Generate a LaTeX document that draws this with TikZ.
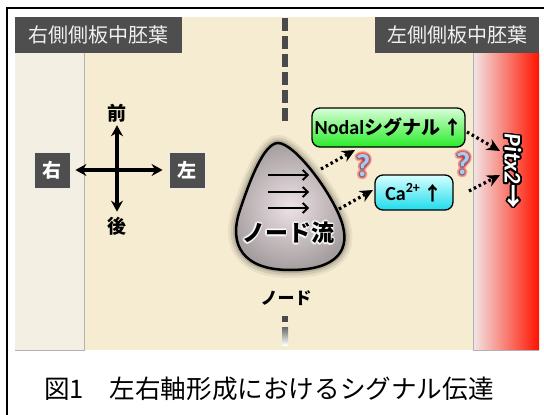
\documentclass[tikz,border=0pt]{standalone}
\usepackage{fontspec}
\setmainfont{Noto Sans CJK JP}
\newfontfamily\carl{Carlito}
\usetikzlibrary{arrows.meta,calc}
\definecolor{bg}{HTML}{F6ECD2}
\definecolor{lpanel}{HTML}{F3EFE3}
\definecolor{hdr}{HTML}{4E4E4E}
\definecolor{dashc}{HTML}{4A4A4A}
\definecolor{qfill}{HTML}{B4C8E6}
\definecolor{qedge}{HTML}{5A6F96}
\newcommand\fs[1]{\fontsize{#1}{#1}\selectfont}
\newcommand\blobp{(278,143) .. controls (264,143) and (250,180) .. (240,210)
  .. controls (228,245) and (243,270) .. (290,270)
  .. controls (337,270) and (352,250) .. (341,220)
  .. controls (330,190) and (294,143) .. (278,143) -- cycle}
\tikzset{
  hdrbox/.style={fill=hdr, text=white!94!black, minimum height=36pt, inner sep=0pt, font=\fs{20}},
  dirbox/.style={fill=hdr, draw=white!85!gray, line width=0.8pt, text=white, minimum width=36pt, minimum height=36pt, inner sep=0pt, font=\fs{19}\bfseries},
  dirlabel/.style={font=\fs{19}\bfseries, inner sep=0pt},
  compass/.style={line width=3.6pt, {Stealth[length=11pt,width=12pt]}-{Stealth[length=11pt,width=12pt]}},
  flowarrow/.style={line width=1.8pt, -{Straight Barb[length=5pt,width=10pt]}},
  dotarrow/.style={line width=3.2pt, dash pattern=on 2.5pt off 3pt, -{Stealth[length=13pt,width=12pt]}},
  sigbox/.style={draw=black, line width=1.3pt, rounded corners=8pt, inner sep=0pt, font=\fs{19}\bfseries},
}
\begin{document}
\begin{tikzpicture}[x=1pt,y=-1pt]
\useasboundingbox (0,0) rectangle (544,415);
\fill[white] (0,0) rectangle (544,415);
% outer frame
\draw[line width=2pt] (544,8) -- (6.5,8) -- (6.5,415);
% backgrounds
\fill[bg] (15,17) rectangle (539,350);
\fill[lpanel] (15,17) rectangle (84,350);
\draw[gray!60, line width=0.8pt] (84,53) -- (84,350) -- (15,350);
\shade[left color={rgb,255:red,242;green,230;blue,230}, middle color={rgb,255:red,248;green,100;blue,100}, right color={rgb,255:red,255;green,20;blue,0}] (473,53) rectangle (539,350);
\draw[gray!60, line width=0.8pt] (473,53) -- (473,350) -- (539,350);
% headers
\node[hdrbox, minimum width=167pt] (hl) at (98.5,35) {右側側板中胚葉};
\node[hdrbox, minimum width=164pt] (hr) at (457,35) {左側側板中胚葉};
% midline
\draw[dashc, line width=6pt, dash pattern=on 13pt off 5pt] (285,18) -- (285,121);
\fill[dashc] (282,316) rectangle (288,322);
\shade[top color=gray!80!black, bottom color=white] (282,327) rectangle (288,345);
% compass
\node[dirlabel] (front) at (117,113) {前};
\node[dirlabel] (back) at (117,226) {後};
\node[dirbox] (R) at (52,170) {右};
\node[dirbox] (L) at (187,170) {左};
\draw[compass] ([xshift=5pt]R.east) -- ([xshift=-6pt]L.west);
\draw[compass] ([yshift=-3pt]front.south) -- ([yshift=5pt]back.north);
% node flow blob
\draw[black, opacity=0.06, line width=16pt] \blobp;
\draw[black, opacity=0.09, line width=11pt] \blobp;
\draw[black, opacity=0.14, line width=6pt] \blobp;
\shade[inner color={rgb,255:red,238;green,226;blue,230}, outer color={rgb,255:red,165;green,158;blue,159}] \blobp;
\draw[black, line width=2.5pt] \blobp;
\node[inner sep=0pt] (flow) at (290,210) {};
\coordinate (a1s) at (268,175); \coordinate (a1e) at (309,175);
\coordinate (a2s) at (268,192); \coordinate (a2e) at (309,192);
\coordinate (a3s) at (268,208); \coordinate (a3e) at (309,208);
\draw[flowarrow] (a1s) -- (a1e);
\draw[flowarrow] (a2s) -- (a2e);
\draw[flowarrow] (a3s) -- (a3e);
\foreach \a in {0,30,...,330}{
  \node[text=white, opacity=0.45, font=\fs{23}\bfseries, inner sep=0pt] (fh\a) at ($(288,233)+(\a:1.8pt)$) {ノード流};
}
\node[font=\fs{23}\bfseries, inner sep=0pt] (flowtext) at (288,233) {ノード流};
% node label
\node[font=\fs{17}\bfseries, inner sep=0pt] (nodelabel) at (286,298) {ノード};
% signal boxes
\node[sigbox, minimum width=153pt, minimum height=39pt, top color={rgb,255:red,215;green,255;blue,215}, bottom color={rgb,255:red,40;green,235;blue,40}] (nodal) at (388.5,127.5) {{\carl\fs{20}Nodal}シグナル\,↑};
\node[sigbox, minimum width=78pt, minimum height=35pt, top color={rgb,255:red,215;green,255;blue,255}, bottom color={rgb,255:red,30;green,220;blue,235}] (ca) at (414,192.5) {{\carl\fs{20}Ca\textsuperscript{2+}}\,↑};
% question marks
\foreach \n/\x/\y in {qa/363/166, qb/463/164}{
  \foreach \a in {0,30,...,330}{
    \node[text=red, opacity=0.2, font=\fs{32}\carl\bfseries, inner sep=0pt] (\n r\a) at ($(\x,\y)+(\a:3pt)$) {?};
  }
  \foreach \a in {0,45,...,315}{
    \node[text=qedge, font=\fs{32}\carl\bfseries, inner sep=0pt] (\n e\a) at ($(\x,\y)+(\a:0.9pt)$) {?};
  }
  \node[text=qfill, font=\fs{32}\carl\bfseries, inner sep=0pt] (\n) at (\x,\y) {?};
}
% Pitx2
\foreach \a in {0,22.5,...,337.5}{
  \node[rotate=-90, text=black, font=\fs{24}\bfseries, inner sep=0pt] (ph\a) at ($(513,171)+(\a:1.8pt)$) {{\carl\itshape Pitx2}→};
}
\node[rotate=-90, text=white, font=\fs{24}\bfseries, inner sep=0pt] (pitx) at (513,171) {{\carl\itshape Pitx2}→};
% dotted arrows
\coordinate (d1s) at (321,169); \coordinate (d1e) at (355,150);
\coordinate (d2s) at (339,209); \coordinate (d2e) at (373,190);
\coordinate (d3s) at (467,132); \coordinate (d3e) at (500,151);
\coordinate (d4s) at (469,191); \coordinate (d4e) at (500,175);
\draw[dotarrow] (d1s) -- (d1e);
\draw[dotarrow] (d2s) -- (d2e);
\draw[dotarrow] (d3s) -- (d3e);
\draw[dotarrow] (d4s) -- (d4e);
% caption
\node[anchor=west, font=\fs{25.6}, inner sep=0pt] (cap) at (44,389) {図1　左右軸形成におけるシグナル伝達};
\end{tikzpicture}
\end{document}
